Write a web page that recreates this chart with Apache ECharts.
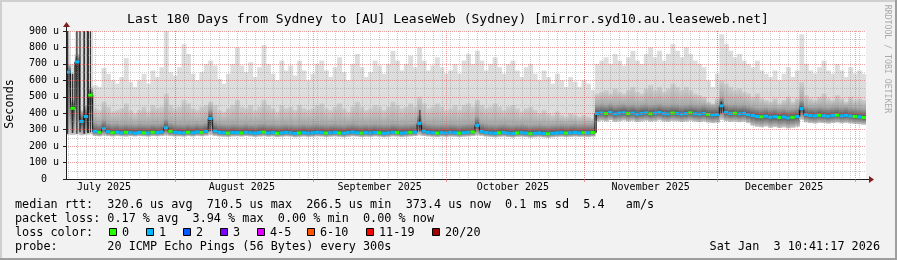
<!DOCTYPE html>
<html><head><meta charset="utf-8">
<script src="https://cdn.jsdelivr.net/npm/echarts@6/dist/echarts.min.js"></script>
<style>html,body{margin:0;padding:0;background:#f2f2f2}#c{width:897px;height:260px}</style>
</head><body><div id="c"></div><script>
// ---------- data ----------
const periodStart = '2025-07-07T10:41:17';   // left edge of the graph (180 days before end)
const periodDays = 180;
const monthStarts = ['2025-08-01','2025-09-01','2025-10-01','2025-11-01','2025-12-01','2026-01-01'];
const monthLabelDates = ['2025-07-16','2025-08-16','2025-09-16','2025-10-16','2025-11-16','2025-12-16'];
const monthLabels = ['July 2025','August 2025','September 2025','October 2025','November 2025','December 2025'];
const minorGridFirst = '2025-07-08';
const yTickValues = [0,100,200,300,400,500,600,700,800,900];
const yTickLabels = ['0  ','100 u','200 u','300 u','400 u','500 u','600 u','700 u','800 u','900 u'];

// one value per day (microseconds)
const median = [650,430,712,350,380,510,
 290,284,306,288,282,285,280,284,282,279,283,281,280,284,282,286,312,290,284,
 282,280,284,281,286,283,290,368,292,284,281,279,283,282,280,284,281,279,283,285,280,282,278,280,283,281,277,280,282,279,
 281,284,282,279,281,283,280,278,282,285,281,279,282,280,283,281,278,280,284,282,279,281,283,285,338,292,284,281,279,282,280,
 283,281,279,282,284,286,326,290,283,280,278,281,283,279,277,280,282,279,276,278,280,277,275,278,280,282,279,281,283,280,282,281,283,398,
 402,398,405,396,400,403,398,401,395,399,402,397,400,404,398,396,401,399,395,398,402,397,395,399,393,390,392,445,405,398,
 400,396,399,392,386,380,378,382,376,379,374,377,372,375,380,428,392,386,384,388,385,382,386,389,384,387,383,380,378,374];
const smokeTop = [900,700,900,900,900,900,
 570,560,675,640,600,580,620,735,590,560,600,640,580,660,620,680,900,650,630,
 680,820,760,640,600,650,700,720,690,610,580,640,700,800,690,650,710,620,680,815,700,640,600,720,660,690,630,720,660,600,
 640,700,720,660,620,680,740,650,600,700,760,680,620,650,720,690,640,700,780,720,660,700,750,680,800,720,660,690,740,680,640,
 660,700,640,720,760,700,780,720,660,700,740,680,640,700,720,660,620,680,700,640,600,660,620,580,640,600,560,620,590,560,600,580,540,700,
 720,740,700,760,720,690,740,780,720,700,760,800,740,780,720,760,820,780,740,800,760,720,700,680,600,560,640,880,820,780,
 740,760,720,700,680,720,660,640,620,660,600,640,680,620,660,880,700,660,640,680,720,660,640,700,660,620,680,640,660,640];
const smokeMid = [700,480,760,420,450,560,
 430,420,470,440,410,420,430,460,420,400,420,440,410,450,430,440,520,450,430,
 440,480,460,430,420,440,450,470,450,420,410,430,450,480,440,430,450,420,440,480,450,430,410,450,430,440,420,450,430,420,
 430,450,460,430,420,440,460,430,410,440,470,440,420,430,450,440,420,440,470,450,430,440,460,440,500,460,430,440,460,440,420,
 430,450,420,450,460,440,480,450,430,440,460,440,420,440,450,430,410,430,440,420,400,420,400,390,410,390,380,400,390,380,390,380,370,520,
 530,540,520,550,530,520,540,560,530,520,550,570,540,560,530,550,580,560,540,560,540,520,510,500,470,460,490,600,580,560,
 540,550,530,520,500,520,490,480,470,490,460,480,500,470,490,590,510,490,480,500,520,490,480,510,490,470,500,480,490,480];
const smokeLow = [270,268,272,266,270,272,
 262,260,264,261,259,262,260,258,261,259,262,260,258,261,260,262,264,261,259,
 260,258,261,259,262,260,263,268,262,259,257,256,259,260,258,261,259,256,258,260,257,259,255,257,259,258,254,256,258,256,
 257,259,258,255,257,259,256,254,257,260,258,255,257,256,259,257,254,256,259,258,255,257,259,261,265,262,259,257,255,258,256,
 258,257,255,257,259,261,265,262,258,256,254,256,258,255,253,256,257,255,252,254,256,253,251,254,256,257,255,256,258,256,257,255,258,350,
 355,350,358,348,352,356,350,354,347,351,355,349,352,357,350,348,353,351,347,350,354,349,346,350,344,340,343,360,352,348,
 350,346,349,340,325,318,315,320,312,316,310,314,308,312,318,360,345,340,338,342,340,337,341,344,339,342,338,335,333,330];
const lostPings = [1,0,1,1,1,0,1,0,1,1, 0,1,1,0,1,1,1,0,1,0, 1,1,1,0,1,1,1,0,1,1, 0,1,1,1,1,1,0,1,1,0,
 1,1,1,1,0,1,1,0,1,1, 1,1,0,1,1,1,1,1,0,1, 1,0,1,1,1,1,0,1,1,1, 0,1,1,1,0,1,1,0,1,1,
 1,1,1,0,1,1,1,1,0,1, 1,0,1,1,1,1,1,0,1,1, 1,0,1,1,0,1,1,1,0,1, 1,1,0,1,1,1,0,1,0,1,
 1,0,1,1,1,1,0,1,1,1, 1,0,1,1,1,1,0,1,1,1, 0,1,1,1,0,1,1,1,1,1, 0,1,1,1,1,1,0,1,1,1,
 0,1,1,0,1,1,1,1,1,0, 1,1,1,0,1,1,1,0,1,0];
// dark vertical streaks: [fromDay, toDay, lowUs, highUs]
const darkStreaks = [[0.05,0.5,275,900],[1.3,1.65,280,640],[2.3,2.6,275,900],[3.0,3.3,285,900],[3.9,4.3,275,900],[4.7,5.2,280,900],[5.4,5.6,285,900],
 [32.3,32.55,290,380],[79.5,79.75,290,420],[119.2,119.45,282,402],[147.3,147.55,400,470],[165.0,165.25,385,440]];
const lossLabels = ['0','1','2','3','4-5','6-10','11-19','20/20'];
const lossColors = ['#26ff00','#00b8ff','#0059ff','#7e00ff','#dd00ff','#ff5500','#ff0000','#a10000'];
const titleText = 'Last 180 Days from Sydney to [AU] LeaseWeb (Sydney) [mirror.syd10.au.leaseweb.net]';
const legendRows = [
 'median rtt:  320.6 us avg  710.5 us max  266.5 us min  373.4 us now  0.1 ms sd  5.4   am/s',
 'packet loss: 0.17 % avg  3.94 % max  0.00 % min  0.00 % now'];
const lossRowLabel = 'loss color:';
const probeRow = 'probe:       20 ICMP Echo Pings (56 Bytes) every 300s';
const dateText = 'Sat Jan  3 10:41:17 2026';

// ---------- helpers ----------
const DAY = 86400000;
function parseLocal(s){ const [d,t] = s.split('T'); const [y,m,dd] = d.split('-').map(Number);
  let hh=0,mm=0,ss=0; if (t) [hh,mm,ss] = t.split(':').map(Number); return Date.UTC(y,m-1,dd,hh,mm,ss); }
const t0 = parseLocal(periodStart);
const dayOf = s => (parseLocal(s) - t0) / DAY;
const monthStartDays = monthStarts.map(dayOf).filter(d => d <= periodDays);
const monthLabelDays = monthLabelDates.map(dayOf);
const minorDays = []; for (let d = dayOf(minorGridFirst); d < periodDays; d += 2) minorDays.push(d);

const mono = '"DejaVu Sans Mono", monospace';
const MGRID = 'rgba(222,79,79,0.55)', GRID = 'rgba(143,143,143,0.45)';

function outerBand(params, api){
  const i = api.value(0);
  const a = api.coord([i, api.value(2)]), b = api.coord([i+1, api.value(1)]);
  return {type:'rect', shape:{x:a[0], y:a[1], width:b[0]-a[0]+0.5, height:b[1]-a[1]}, style:{fill:'#dddddd'}};
}
function innerBand(params, api){
  const i = api.value(0);
  const a = api.coord([i, api.value(2)]), b = api.coord([i+1, api.value(1)]), m = api.coord([i, api.value(3)]);
  const h = b[1]-a[1]; if (h <= 0) return null;
  const fMed = Math.min(1, Math.max(0, (m[1]-a[1])/h));
  const fCore = Math.max(0, (m[1]-9-a[1])/h);
  const stops = [{offset:0, color:'#cdcdcd'}];
  if (fCore > 0 && fCore < fMed) stops.push({offset:fCore, color:'#a8a8a8'});
  stops.push({offset:fMed, color:'#505050'});
  stops.push({offset:1, color:'#c8c8c8'});
  return {type:'rect', shape:{x:a[0], y:a[1], width:b[0]-a[0]+0.5, height:h},
    style:{fill:new echarts.graphic.LinearGradient(0,0,0,1,stops)}};
}
function streak(params, api){
  const a = api.coord([api.value(0), api.value(3)]), b = api.coord([api.value(1), api.value(2)]);
  return {type:'rect', shape:{x:a[0], y:a[1], width:Math.max(1,b[0]-a[0]), height:b[1]-a[1]}, style:{fill:'rgba(25,25,25,0.85)'}};
}
function medianMark(params, api){
  const i = api.value(0);
  const a = api.coord([i, api.value(1)]), b = api.coord([i+1, api.value(1)]);
  return {type:'rect', shape:{x:a[0], y:a[1]-1.5, width:b[0]-a[0], height:3}, style:{fill:lossColors[api.value(2)]}};
}

const chart = echarts.init(document.getElementById('c'), null, {renderer:'canvas'});
const T = (x,y,s,size,extra) => Object.assign({type:'text', x, y, z:100,
  style:Object.assign({text:s, fontFamily:mono, fontSize:size, fill:'#000', align:'left', verticalAlign:'middle'}, extra||{})});

const boxX = [109,146,183,220,257,307,366,432];
const graphics = [
  {type:'rect', shape:{x:0,y:0,width:897,height:2}, style:{fill:'#cfcfcf'}, z:100},
  {type:'rect', shape:{x:0,y:0,width:2,height:260}, style:{fill:'#cfcfcf'}, z:100},
  {type:'rect', shape:{x:895,y:0,width:2,height:260}, style:{fill:'#9e9e9e'}, z:100},
  {type:'rect', shape:{x:0,y:258,width:897,height:2}, style:{fill:'#9e9e9e'}, z:100},
  T(448, 19.5, titleText, 13, {align:'center'}),
  Object.assign(T(10, 104, 'Seconds', 11.8, {align:'center'}), {rotation:Math.PI/2}),
  Object.assign(T(887, 59, 'RRDTOOL / TOBI OETIKER', 8.2, {align:'center', fill:'#aaaaaa'}), {rotation:-Math.PI/2}),
  T(15, 204.5, legendRows[0], 11.8, {}),
  T(15, 218.5, legendRows[1], 11.8, {}),
  T(15, 232.5, lossRowLabel, 11.8, {}),
  T(15, 246.5, probeRow, 11.8, {}),
  T(880, 246.5, dateText, 11.8, {align:'right'}),
  {type:'line', shape:{x1:866,y1:179.5,x2:870,y2:179.5}, style:{stroke:'#1f1f1f',lineWidth:1}, z:100},
  {type:'polygon', shape:{points:[[869,176],[869,183],[874,179.5]]}, style:{fill:'#801f1f'}, z:100},
  {type:'line', shape:{x1:66.5,y1:31,x2:66.5,y2:26}, style:{stroke:'#1f1f1f',lineWidth:1}, z:100},
  {type:'polygon', shape:{points:[[63,27],[70,27],[66.5,22]]}, style:{fill:'#801f1f'}, z:100}
];
lossLabels.forEach((lab, k) => {
  graphics.push({type:'rect', shape:{x:boxX[k]+0.5, y:228.5, width:7, height:7}, style:{fill:lossColors[k], stroke:'#000', lineWidth:1}, z:100});
  graphics.push(T(boxX[k]+13, 232.5, lab, 11.8, {}));
});

chart.setOption({
  backgroundColor:'#f2f2f2',
  animation:false,
  grid:{left:66, top:31, width:800, height:148, show:true, backgroundColor:'#ffffff', borderWidth:0},
  xAxis:[
    {type:'value', min:0, max:periodDays, z:6,
     axisLine:{show:true, onZero:false, lineStyle:{color:'#1f1f1f', width:1}},
     axisTick:{show:true, customValues:monthStartDays, length:3, lineStyle:{color:MGRID}},
     axisLabel:{show:true, customValues:monthLabelDays, margin:3, fontFamily:mono, fontSize:10, color:'#000',
       formatter:v => { const k = monthLabelDays.findIndex(d => Math.abs(d-v) < 1e-6); return k >= 0 ? monthLabels[k] : ''; }},
     splitLine:{show:true, lineStyle:{color:MGRID, type:[1,1], width:1}}},
    {type:'value', min:0, max:periodDays, z:5, position:'bottom',
     axisLine:{show:false}, axisLabel:{show:false},
     axisTick:{show:false, customValues:minorDays},
     splitLine:{show:true, lineStyle:{color:GRID, type:[1,1], width:1}}}
  ],
  yAxis:{type:'value', min:0, max:900, interval:100, z:6,
    axisLine:{show:true, lineStyle:{color:'#1f1f1f'}},
    axisTick:{show:true, length:3, lineStyle:{color:'#1f1f1f'}},
    axisLabel:{margin:7, fontFamily:mono, fontSize:10, color:'#000',
      formatter:v => { const k = yTickValues.indexOf(v); return k >= 0 ? yTickLabels[k] : ''; }},
    splitLine:{show:true, lineStyle:{color:MGRID, type:[1,1], width:1}},
    minorTick:{show:false, splitNumber:2},
    minorSplitLine:{show:true, lineStyle:{color:GRID, type:[1,1], width:1}}},
  series:[
    {type:'custom', name:'smoke', xAxisIndex:0, z:1, clip:true, renderItem:outerBand,
     data:smokeTop.map((t,i) => [i, smokeLow[i], t])},
    {type:'custom', name:'smoke core', xAxisIndex:0, z:1, clip:true, renderItem:innerBand,
     data:smokeMid.map((m,i) => [i, smokeLow[i], m, median[i]])},
    {type:'custom', name:'streaks', xAxisIndex:0, z:1, clip:true, renderItem:streak, data:darkStreaks},
    {type:'line', name:'median', xAxisIndex:0, z:2, step:'middle', symbol:'none', silent:true,
     lineStyle:{color:'#141414', width:1}, data:median.map((v,i) => [i+0.5, v])},
    {type:'custom', name:'median loss', xAxisIndex:0, z:3, clip:true, renderItem:medianMark,
     data:median.map((v,i) => [i, v, lostPings[i]])}
  ],
  graphic:graphics
});
</script></body></html>
